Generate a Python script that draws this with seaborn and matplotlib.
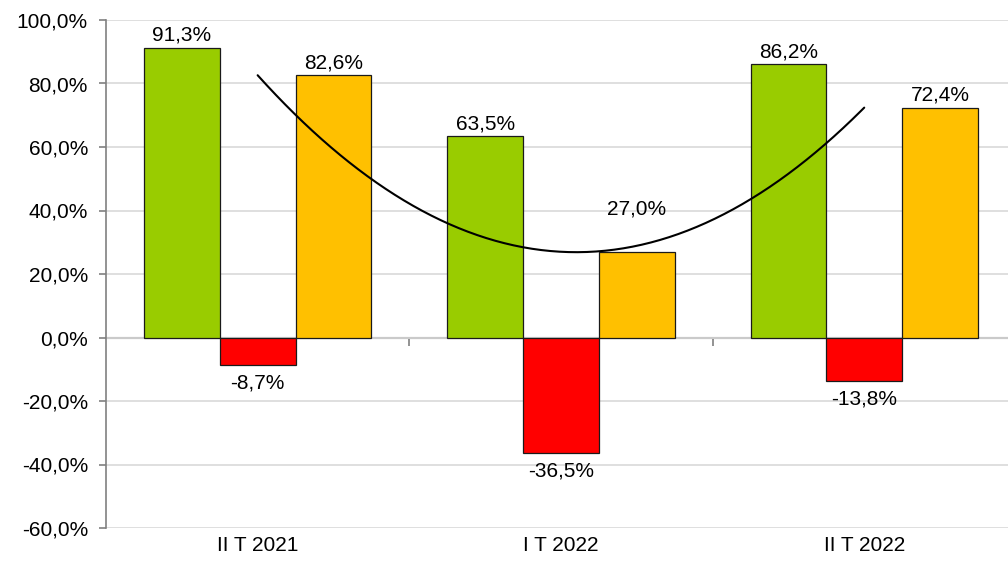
import numpy as np
import pandas as pd
import matplotlib
matplotlib.use('Agg')
import matplotlib.pyplot as plt
import seaborn as sns

# values
periodi = ['II T 2021', 'I T 2022', 'II T 2022']
serie = ['Serie 1', 'Serie 2', 'Serie 3']
verde = [91.3, 63.5, 86.2]
rosso = [-8.7, -36.5, -13.8]
arancio = [82.6, 27.0, 72.4]
colori = ['#99CC00', '#FF0000', '#FFC000']

df = pd.DataFrame({
    'periodo': periodi * 3,
    'serie': [s for s in serie for _ in periodi],
    'valore': verde + rosso + arancio,
})

sns.set_style('white')
plt.rcParams['font.family'] = ['Liberation Sans', 'DejaVu Sans']
plt.rcParams['text.color'] = 'black'
plt.rcParams['xtick.color'] = 'black'
plt.rcParams['ytick.color'] = 'black'

fig = plt.figure(figsize=(10.08, 5.63), dpi=100)
ax = fig.add_axes([106 / 1008, 35 / 563, 1 - 106 / 1008, 508 / 563])

sns.barplot(data=df, x='periodo', y='valore', hue='serie', order=periodi,
            hue_order=serie, palette=colori, saturation=1, width=0.75,
            edgecolor='#1a1a1a', linewidth=0.9, legend=False, ax=ax, zorder=3)

# polynomial trend (order 2) of the orange series
xs = np.arange(len(periodi))
coef = np.polyfit(xs, arancio, 2)
xx = np.linspace(xs[0], xs[-1], 200)
ax.plot(xx, np.polyval(coef, xx), color='black', lw=1.5, zorder=4)

# labels
def fmt(v):
    return f'{v:.1f}%'.replace('.', ',')

for cont in ax.containers:
    for bar in cont:
        h = bar.get_height()
        xc = bar.get_x() + bar.get_width() / 2
        if h >= 0:
            off = 24 if abs(h - 27.0) < 0.01 else 2
            ax.annotate(fmt(h), (xc, h), xytext=(0, off), textcoords='offset points',
                        ha='center', va='bottom', fontsize=15, zorder=5)
        else:
            ax.annotate(fmt(h), (xc, h), xytext=(0, -6), textcoords='offset points',
                        ha='center', va='top', fontsize=15, zorder=5)

ax.set_ylim(-60, 100)
ax.set_xlim(-0.5, 2.474)
ax.set_yticks(np.arange(-60, 101, 20))
ax.set_yticklabels([f'{v:.1f}%'.replace('.', ',') for v in np.arange(-60, 101, 20)])
ax.yaxis.grid(True, color='#D9D9D9', lw=1.2, zorder=0)
ax.set_axisbelow(True)
ax.set_xlabel('')
ax.set_ylabel('')

for s in ['top', 'right', 'bottom']:
    ax.spines[s].set_visible(False)
ax.spines['left'].set_color('#808080')
ax.spines['left'].set_linewidth(1.2)
ax.tick_params(axis='y', left=True, length=5, color='#808080', width=1.2,
               labelsize=15, pad=8, labelcolor='black')
ax.tick_params(axis='x', bottom=False, length=0, labelsize=15, pad=6,
               labelcolor='black')

# zero axis line with tick marks between groups
sec = ax.secondary_xaxis(60 / 160)
sec.set_xticks([0.5, 1.5])
sec.set_xticklabels(['', ''])
sec.spines['bottom'].set_color('#808080')
sec.spines['bottom'].set_linewidth(1.5)
sec.tick_params(length=6, color='#808080', width=1.2)

fig.savefig('out.png', dpi=100)
